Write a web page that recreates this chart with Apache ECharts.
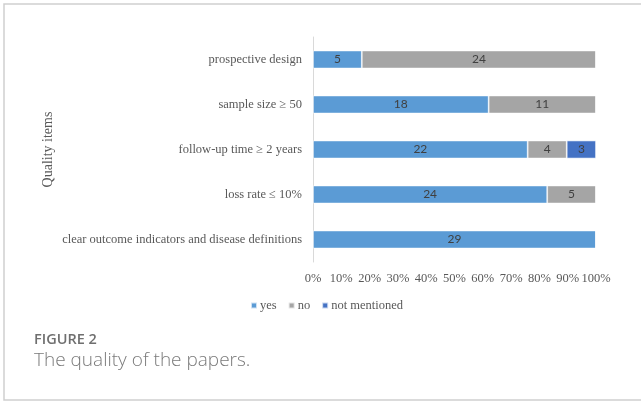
<!DOCTYPE html>
<html>
<head>
<meta charset="utf-8">
<script src="https://cdn.jsdelivr.net/npm/echarts@6/dist/echarts.min.js"></script>
<style>
html,body{margin:0;padding:0;background:#fff;}
#c{width:641px;height:403px;}
</style>
</head>
<body>
<div id="c"></div>
<script>
const categories = [
  'prospective design',
  'sample size \u2265 50',
  'follow-up time \u2265 2 years',
  'loss rate \u2264 10%',
  'clear outcome indicators and disease definitions'
];
const yesCounts = [5, 18, 22, 24, 29];
const noCounts = [24, 11, 4, 5, 0];
const notMentionedCounts = [0, 0, 3, 0, 0];
const totalPapers = 29;
const xTickLabels = ['0%','10%','20%','30%','40%','50%','60%','70%','80%','90%','100%'];

function toItems(counts) {
  return counts.map(c => ({ value: c / totalPapers * 100, count: c }));
}

const chart = echarts.init(document.getElementById('c'), null, { renderer: 'canvas' });
const serif = '"Liberation Serif", "Times New Roman", serif';
const labelCfg = {
  show: true,
  position: 'inside',
  color: '#404040',
  fontFamily: 'Lato, "Open Sans", sans-serif',
  fontSize: 12,
  formatter: p => (p.data.count > 0 ? String(p.data.count) : '')
};
const barStyle = (color) => ({ color: color, borderColor: 'rgba(255,255,255,0.7)', borderWidth: 0.8 });

chart.setOption({
  animation: false,
  backgroundColor: '#fff',
  grid: { left: 313, right: 45, top: 37, bottom: 141, containLabel: false },
  legend: {
    left: 245,
    top: 294,
    itemWidth: 6,
    itemHeight: 6,
    itemGap: 11,
    icon: 'rect',
    textStyle: { fontFamily: serif, fontSize: 12.5, color: '#595959', padding: [0, 0, 0, -2] },
    data: ['yes', 'no', 'not mentioned']
  },
  xAxis: {
    type: 'value',
    min: 0,
    max: 100,
    interval: 10,
    axisLine: { show: false },
    axisTick: { show: false },
    splitLine: { show: false },
    axisLabel: {
      fontFamily: serif,
      fontSize: 12.5,
      color: '#595959',
      margin: 10,
      formatter: v => xTickLabels[Math.round(v / 10)]
    }
  },
  yAxis: {
    type: 'category',
    inverse: true,
    data: categories,
    name: 'Quality items',
    nameLocation: 'middle',
    nameGap: 258,
    nameRotate: 90,
    nameTextStyle: { fontFamily: serif, fontSize: 14, color: '#595959' },
    axisLine: { show: true, lineStyle: { color: '#d9d9d9', width: 1 } },
    axisTick: { show: false },
    axisLabel: { fontFamily: serif, fontSize: 12.5, color: '#595959', margin: 11 }
  },
  series: [
    { name: 'yes', type: 'bar', stack: 'q', barWidth: 18, data: toItems(yesCounts), itemStyle: barStyle('#5B9BD5'), label: labelCfg },
    { name: 'no', type: 'bar', stack: 'q', barWidth: 18, data: toItems(noCounts), itemStyle: barStyle('#A5A5A5'), label: labelCfg },
    { name: 'not mentioned', type: 'bar', stack: 'q', barWidth: 18, data: toItems(notMentionedCounts), itemStyle: barStyle('#4472C4'), label: labelCfg }
  ],
  graphic: [
    { type: 'rect', shape: { x: 4, y: 4, width: 645, height: 396 }, style: { fill: 'none', stroke: '#cfcfcf', lineWidth: 1.5 }, silent: true },
    { type: 'text', style: { x: 34, y: 339.5, verticalAlign: 'middle', text: 'FIGURE 2', fontFamily: '"Open Sans", sans-serif', fontWeight: 600, fontSize: 14.5, fill: '#6f6f6f' } },
    { type: 'text', style: { x: 34, y: 361, verticalAlign: 'middle', text: 'The quality of the papers.', fontFamily: '"Open Sans", sans-serif', fontWeight: 300, fontSize: 19, fill: '#7a7a7a' } }
  ]
});
</script>
</body>
</html>
